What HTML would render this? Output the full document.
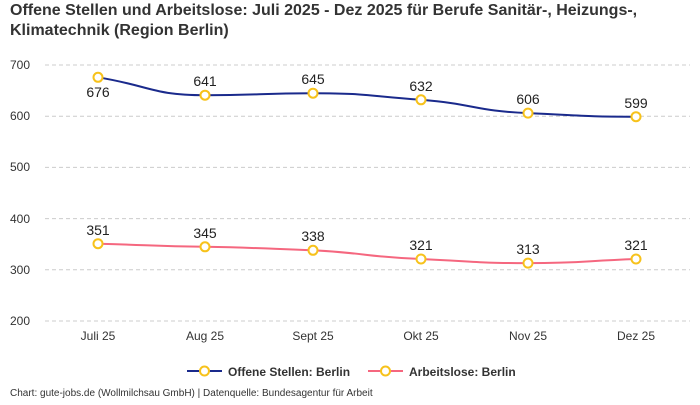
<!DOCTYPE html>
<html><head><meta charset="utf-8"><style>
body{margin:0;background:#fff;width:700px;height:400px;overflow:hidden;font-family:"Liberation Sans",sans-serif}
</style></head><body>
<svg width="700" height="400" xmlns="http://www.w3.org/2000/svg" font-family="Liberation Sans, sans-serif">
<text x="10" y="15" font-size="16" font-weight="bold" fill="#333">Offene Stellen und Arbeitslose: Juli 2025 - Dez 2025 für Berufe Sanitär-, Heizungs-,</text>
<text x="10" y="35" font-size="16" font-weight="bold" fill="#333">Klimatechnik (Region Berlin)</text>
<g stroke="#ccc" stroke-dasharray="4,3" stroke-width="1">
<line x1="45" x2="690" y1="65" y2="65"/><line x1="45" x2="690" y1="116.2" y2="116.2"/>
<line x1="45" x2="690" y1="167.4" y2="167.4"/><line x1="45" x2="690" y1="218.6" y2="218.6"/>
<line x1="45" x2="690" y1="269.8" y2="269.8"/><line x1="45" x2="690" y1="321" y2="321"/>
</g>
<g font-size="12" fill="#333">
<text x="10" y="69">700</text><text x="10" y="120">600</text><text x="10" y="171">500</text>
<text x="10" y="223">400</text><text x="10" y="274">300</text><text x="10" y="325">200</text>
</g>
<g font-size="12" fill="#333" text-anchor="middle">
<text x="98" y="340">Juli 25</text><text x="205" y="340">Aug 25</text><text x="313" y="340">Sept 25</text>
<text x="421" y="340">Okt 25</text><text x="528" y="340">Nov 25</text><text x="636" y="340">Dez 25</text>
</g>
<path d="M98,77.3 C151,86 152,95.2 205,95.2 C259,95.2 259,93.2 313,93.2 C367,93.2 367,96 421,99.8 C475,104 475,111 528,113.1 C582,115.5 582,116.7 636,116.7" fill="none" stroke="#1a2a8c" stroke-width="2"/>
<path d="M98,243.7 C151,245 152,246.2 205,246.8 C259,247.8 259,248.3 313,250.3 C367,253 367,257 421,259 C475,261.5 475,263.1 528,263.1 C582,263.1 582,261 636,259" fill="none" stroke="#f5677f" stroke-width="2"/>
<g fill="#fff" stroke="#f7c21b" stroke-width="2">
<circle cx="98" cy="77.3" r="4.5"/><circle cx="205" cy="95.2" r="4.5"/><circle cx="313" cy="93.2" r="4.5"/>
<circle cx="421" cy="99.8" r="4.5"/><circle cx="528" cy="113.1" r="4.5"/><circle cx="636" cy="116.7" r="4.5"/>
<circle cx="98" cy="243.7" r="4.5"/><circle cx="205" cy="246.8" r="4.5"/><circle cx="313" cy="250.3" r="4.5"/>
<circle cx="421" cy="259" r="4.5"/><circle cx="528" cy="263.1" r="4.5"/><circle cx="636" cy="259" r="4.5"/>
</g>
<g font-size="14" fill="#222" text-anchor="middle">
<text x="98" y="97">676</text><text x="205" y="86">641</text><text x="313" y="84">645</text>
<text x="421" y="91">632</text><text x="528" y="104">606</text><text x="636" y="108">599</text>
<text x="98" y="235">351</text><text x="205" y="238">345</text><text x="313" y="241">338</text>
<text x="421" y="250">321</text><text x="528" y="254">313</text><text x="636" y="250">321</text>
</g>
<line x1="187" x2="222" y1="371" y2="371" stroke="#1a2a8c" stroke-width="2"/>
<circle cx="204.5" cy="371" r="4.5" fill="#fff" stroke="#f7c21b" stroke-width="2"/>
<text x="228" y="376" font-size="12" font-weight="bold" fill="#333">Offene Stellen: Berlin</text>
<line x1="368" x2="403" y1="371" y2="371" stroke="#f5677f" stroke-width="2"/>
<circle cx="385.5" cy="371" r="4.5" fill="#fff" stroke="#f7c21b" stroke-width="2"/>
<text x="409" y="376" font-size="12" font-weight="bold" fill="#333">Arbeitslose: Berlin</text>
<text x="10" y="396" font-size="10" fill="#333">Chart: gute-jobs.de (Wollmilchsau GmbH) | Datenquelle: Bundesagentur für Arbeit</text>
</svg>
</body></html>
